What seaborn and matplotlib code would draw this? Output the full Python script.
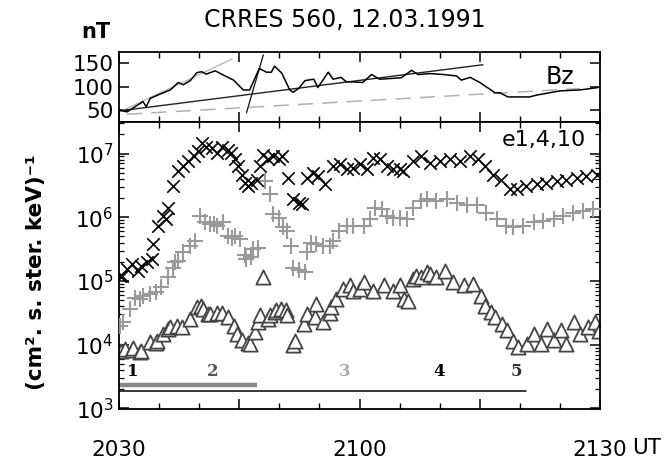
import numpy as np
import pandas as pd
import matplotlib
matplotlib.use("Agg")
import matplotlib.pyplot as plt
import seaborn as sns
from matplotlib.ticker import MultipleLocator, FixedLocator, LogLocator, NullFormatter

sns.set_theme(style="ticks")
plt.rcParams['font.family'] = ['DejaVu Sans']
plt.rcParams['axes.linewidth'] = 1.3
for k in ['text.color', 'axes.labelcolor', 'xtick.color', 'ytick.color', 'axes.edgecolor']:
    plt.rcParams[k] = 'black'

# ---------------- data (time in minutes after 20:30 UT) ----------------
bz_t = [0.1, 1.0, 3.0, 3.4, 3.9, 5.1, 6.4, 7.4, 8.0, 8.9, 9.7, 10.3, 10.9, 12.0, 13.0,
        14.3, 15.5, 16.3, 17.5, 18.4, 19.0, 19.4, 20.3, 21.3, 21.7, 22.4, 23.2, 24.3, 24.8,
        26.1, 26.7, 27.7, 28.3, 30.4, 31.5, 32.5, 35.2, 36.5, 37.3, 38.8, 40.5, 42.1,
        42.7, 43.8, 45.0, 46.9, 47.5, 48.5, 51.2, 52.1, 55.0, 57.5, 59.7]
bz_v = [50, 46, 68, 57, 75, 84, 93, 109, 104, 113, 130, 132, 127, 134, 125,
        114, 93, 93, 139, 131, 131, 144, 129, 93, 88, 96, 113, 116, 98,
        131, 116, 120, 111, 109, 126, 116, 119, 135, 126, 128, 126, 123,
        114, 120, 109, 87, 87, 78, 78, 82, 91, 93, 98]

fit_gray_t = [0.1, 14.1]
fit_gray_v = [46, 159]
fit_black_t = [0.0, 45.4]
fit_black_v = [48, 147]
fit_steep_t = [15.9, 18.0]
fit_steep_v = [44, 168]
fit_dash_t = [1.0, 57.5]
fit_dash_v = [41, 96]

e1_t = [0.1, 0.34, 0.96, 1.6, 2.4, 2.8, 3.45, 4.1, 4.3, 4.9, 5.5, 5.9, 6.15, 6.8, 7.4, 8.0,
        8.6, 9.3, 9.9, 10.3, 10.9, 11.6, 12.2, 12.8, 13.6, 14.0, 14.5, 14.9, 15.3, 15.7,
        16.1, 16.5, 17.2, 17.6, 18.0, 18.6, 19.2, 19.9, 20.3, 21.1, 21.7, 22.4, 22.8, 23.4,
        24.2, 24.8, 25.7, 26.7, 27.6, 28.4, 29.2, 30.1, 30.9, 31.7, 32.5, 33.4, 34.2, 35.0,
        35.4, 36.7, 37.7, 38.8, 40.0, 41.3, 42.5, 43.8, 44.8, 45.6, 46.7, 47.7, 48.8, 49.6,
        50.8, 52.1, 53.3, 54.6, 55.8, 57.1, 58.3, 59.6]
e1_log10 = [5.08, 5.08, 5.19, 5.27, 5.16, 5.24, 5.29, 5.34, 5.58, 5.86, 6.02, 5.97, 6.15, 6.49, 6.72, 6.80,
            6.88, 6.96, 7.04, 7.17, 7.11, 7.09, 7.01, 7.11, 7.06, 7.01, 6.91, 6.80, 6.67, 6.54,
            6.49, 6.54, 6.59, 6.80, 6.98, 6.91, 6.96, 6.91, 6.96, 6.62, 6.28, 6.23, 6.21, 6.62,
            6.70, 6.65, 6.52, 6.80, 6.83, 6.75, 6.78, 6.83, 6.75, 6.93, 6.91, 6.80, 6.75, 6.75,
            6.73, 6.88, 6.96, 6.85, 6.88, 6.91, 6.88, 6.96, 6.91, 6.80, 6.67, 6.59, 6.44, 6.44,
            6.49, 6.52, 6.54, 6.57, 6.59, 6.62, 6.65, 6.67]

e4_t = [0.1, 0.5, 1.4, 2.0, 2.6, 3.0, 3.9, 4.6, 5.3, 6.15, 6.8, 7.0, 7.4, 8.0, 8.85, 9.5,
        10.1, 10.7, 11.3, 11.8, 12.2, 13.0, 13.6, 14.05, 14.5, 15.1, 15.7, 15.9, 16.5, 16.7,
        17.3, 18.2, 18.8, 19.2, 19.9, 20.5, 20.9, 21.5, 21.7, 22.4, 23.2, 23.4, 24.0, 24.6,
        25.4, 26.3, 26.7, 27.5, 28.4, 29.2, 30.5, 31.3, 31.9, 32.8, 33.4, 34.2, 35.0, 35.9,
        36.7, 37.7, 38.4, 39.6, 40.9, 42.1, 43.4, 44.6, 45.8, 47.1, 48.3, 49.2, 50.4, 51.7,
        52.9, 54.2, 55.4, 56.6, 57.9, 59.1]
e4_log10 = [4.30, 4.36, 4.56, 4.74, 4.72, 4.77, 4.80, 4.82, 4.90, 5.06, 5.21, 5.29, 5.32, 5.45, 5.55, 5.63,
            6.02, 5.92, 5.89, 5.89, 5.86, 5.92, 5.71, 5.68, 5.70, 5.66, 5.40, 5.34, 5.37, 5.50,
            5.52, 6.57, 6.36, 6.05, 5.99, 5.84, 5.78, 5.55, 5.21, 5.17, 5.14, 5.45, 5.59, 5.58,
            5.55, 5.55, 5.63, 5.79, 5.86, 5.86, 5.86, 5.97, 6.15, 6.13, 6.02, 5.99, 5.99, 5.97,
            6.15, 6.26, 6.28, 6.26, 6.28, 6.23, 6.20, 6.20, 6.07, 5.97, 5.86, 5.84, 5.86, 5.92,
            5.94, 5.97, 6.02, 6.07, 6.10, 6.13]

e10_t = [0.3, 0.75, 1.6, 1.8, 2.6, 2.8, 3.9, 4.6, 4.8, 5.5, 6.1, 6.4, 7.2, 7.9, 8.85, 9.7,
         10.2, 10.5, 11.1, 11.3, 12.2, 12.9, 13.6, 14.3, 14.7, 15.3, 16.1, 16.4, 17.0, 17.3,
         17.6, 18.0, 18.6, 18.8, 19.5, 19.6, 20.2, 20.8, 21.0, 21.7, 22.0, 23.1, 23.4, 24.5,
         24.6, 25.4, 26.3, 26.5, 27.1, 28.0, 28.8, 29.2, 30.0, 30.5, 31.7, 33.0, 34.2, 35.0,
         35.5, 36.1, 36.7, 37.1, 37.7, 38.4, 38.8, 39.6, 40.6, 41.7, 43.0, 44.2, 45.2, 45.7,
         46.4, 46.9, 47.8, 48.4, 49.1, 49.8, 50.9, 51.8, 52.6, 53.4, 54.2, 55.1, 55.7, 56.7,
         57.5, 58.5, 59.4, 59.9]
e10_log10 = [3.90, 3.94, 3.92, 3.95, 3.89, 3.90, 4.04, 4.02, 4.06, 4.17, 4.25, 4.28, 4.30, 4.28, 4.41, 4.59,
             4.60, 4.56, 4.48, 4.48, 4.50, 4.50, 4.43, 4.30, 4.17, 4.07, 4.02, 4.01, 4.20, 4.36,
             4.46, 5.06, 4.41, 4.46, 4.51, 4.54, 4.56, 4.54, 4.46, 3.99, 4.06, 4.33, 4.48, 4.44,
             4.64, 4.36, 4.50, 4.59, 4.72, 4.88, 4.93, 4.84, 4.88, 4.98, 4.84, 4.93, 4.84, 4.93,
             4.72, 4.69, 5.03, 5.08, 5.06, 5.14, 5.11, 5.06, 5.16, 4.98, 4.93, 4.95, 4.77, 4.60,
             4.52, 4.44, 4.33, 4.23, 4.06, 3.96, 4.01, 4.17, 4.01, 4.25, 4.08, 4.23, 4.01, 4.36,
             4.16, 4.28, 4.36, 4.22]

# interval bars and labels
gray_bar_t = [0.0, 17.2]
gray_bar_log10 = 3.36
black_bar_t = [0.0, 50.7]
black_bar_log10 = 3.27
interval_labels = ["1", "2", "3", "4", "5"]
interval_t = [1.7, 11.7, 28.1, 39.9, 49.5]
interval_colors = ["black", "#555555", "#aaaaaa", "black", "#333333"]
interval_log10 = 3.58

xtick_pos = [0, 30, 60]
xtick_lab = ["2030", "2100", "2130"]

# ---------------- figure ----------------
fig = plt.figure(figsize=(6.71, 4.68), dpi=100)
ax1 = fig.add_axes([0.1773, 0.740, 0.717, 0.1496])
ax2 = fig.add_axes([0.1773, 0.126, 0.717, 0.614])

# top panel: Bz
sns.lineplot(x=fit_gray_t, y=fit_gray_v, ax=ax1, color="#b8b8b8", lw=1.0, estimator=None, sort=False)
sns.lineplot(x=fit_dash_t, y=fit_dash_v, ax=ax1, color="#b0b0b0", lw=1.1, estimator=None, sort=False)
ax1.lines[-1].set_dashes([10, 6])
sns.lineplot(x=fit_black_t, y=fit_black_v, ax=ax1, color="#222222", lw=1.0, estimator=None, sort=False)
sns.lineplot(x=fit_steep_t, y=fit_steep_v, ax=ax1, color="#222222", lw=1.0, estimator=None, sort=False)
sns.lineplot(x=bz_t, y=bz_v, ax=ax1, color="black", lw=1.1, estimator=None, sort=False)

ax1.set_xlim(0, 60)
ax1.set_ylim(25, 175)
ax1.yaxis.set_major_locator(FixedLocator([50, 100, 150]))
ax1.xaxis.set_major_locator(MultipleLocator(15))
ax1.xaxis.set_minor_locator(MultipleLocator(5))
ax1.set_xticklabels([])
ax1.tick_params(axis='both', which='both', direction='in', top=True, right=True,
                labelsize=15.5, pad=4)
ax1.tick_params(axis='x', which='major', length=7, width=1.1)
ax1.tick_params(axis='x', which='minor', length=4, width=1.0)
ax1.tick_params(axis='y', which='major', length=7, width=1.1)
ax1.set_xlabel("")
ax1.set_ylabel("")
ax1.text(0.917, 0.64, "Bz", transform=ax1.transAxes, ha='center', va='center', fontsize=17)

# bottom panel: fluxes
df1 = pd.DataFrame({"t": e1_t, "flux": 10 ** np.array(e1_log10)})
df4 = pd.DataFrame({"t": e4_t, "flux": 10 ** np.array(e4_log10)})
df10 = pd.DataFrame({"t": e10_t, "flux": 10 ** np.array(e10_log10)})

sns.scatterplot(data=df10, x="t", y="flux", ax=ax2, marker="^", s=105,
                facecolor="white", edgecolor="#454545", linewidth=1.3, zorder=2)
sns.scatterplot(data=df4, x="t", y="flux", ax=ax2, marker="+", s=130,
                color="#9a9a9a", linewidth=1.5, zorder=3)
sns.scatterplot(data=df1, x="t", y="flux", ax=ax2, marker="x", s=80,
                color="black", linewidth=1.2, zorder=4)

ax2.plot(gray_bar_t, [10 ** gray_bar_log10] * 2, color="#888888", lw=3.2, solid_capstyle='butt')
ax2.plot(black_bar_t, [10 ** black_bar_log10] * 2, color="black", lw=1.1)
for lab, t, c in zip(interval_labels, interval_t, interval_colors):
    ax2.text(t, 10 ** interval_log10, lab, ha='center', va='center', fontsize=12,
             fontweight='bold', family='DejaVu Serif', color=c)

ax2.set_yscale('log')
ax2.set_xlim(0, 60)
ax2.set_ylim(10 ** 2.99, 10 ** 7.5)
ax2.yaxis.set_major_locator(LogLocator(base=10, numticks=10))
ax2.yaxis.set_minor_locator(LogLocator(base=10, subs=np.arange(2, 10), numticks=20))
ax2.yaxis.set_minor_formatter(NullFormatter())
ax2.set_xticks(list(range(0, 61, 15)))
ax2.xaxis.set_minor_locator(MultipleLocator(5))
ax2.set_xticklabels([xtick_lab[xtick_pos.index(v)] if v in xtick_pos else "" for v in range(0, 61, 15)])
ax2.tick_params(axis='both', which='both', direction='in', top=True, right=True, labelsize=15.5)
ax2.tick_params(axis='x', which='major', length=7, width=1.1, pad=22)
ax2.tick_params(axis='x', which='minor', length=4, width=1.0)
ax2.tick_params(axis='y', which='major', length=7, width=1.1, pad=4)
ax2.tick_params(axis='y', which='minor', length=3.5, width=0.9)
ax2.set_xlabel("")
ax2.set_ylabel("")
ax2.text(0.97, 0.935, "e1,4,10", transform=ax2.transAxes, ha='right', va='center', fontsize=16)

# figure texts
fig.text(345 / 671, 1 - 20 / 468, "CRRES 560, 12.03.1991", ha='center', va='center', fontsize=17)
fig.text(96 / 671, 1 - 32 / 468, "nT", ha='center', va='center', fontsize=15, fontweight='bold')
fig.text(36 / 671, 1 - 272 / 468, "(cm². s. ster. keV)⁻¹", ha='center', va='center',
         rotation=90, fontsize=15.5, fontweight='bold')
fig.text(632 / 671, 1 - 448 / 468, "UT", ha='left', va='center', fontsize=15.5)

fig.savefig("out.png", dpi=100)
